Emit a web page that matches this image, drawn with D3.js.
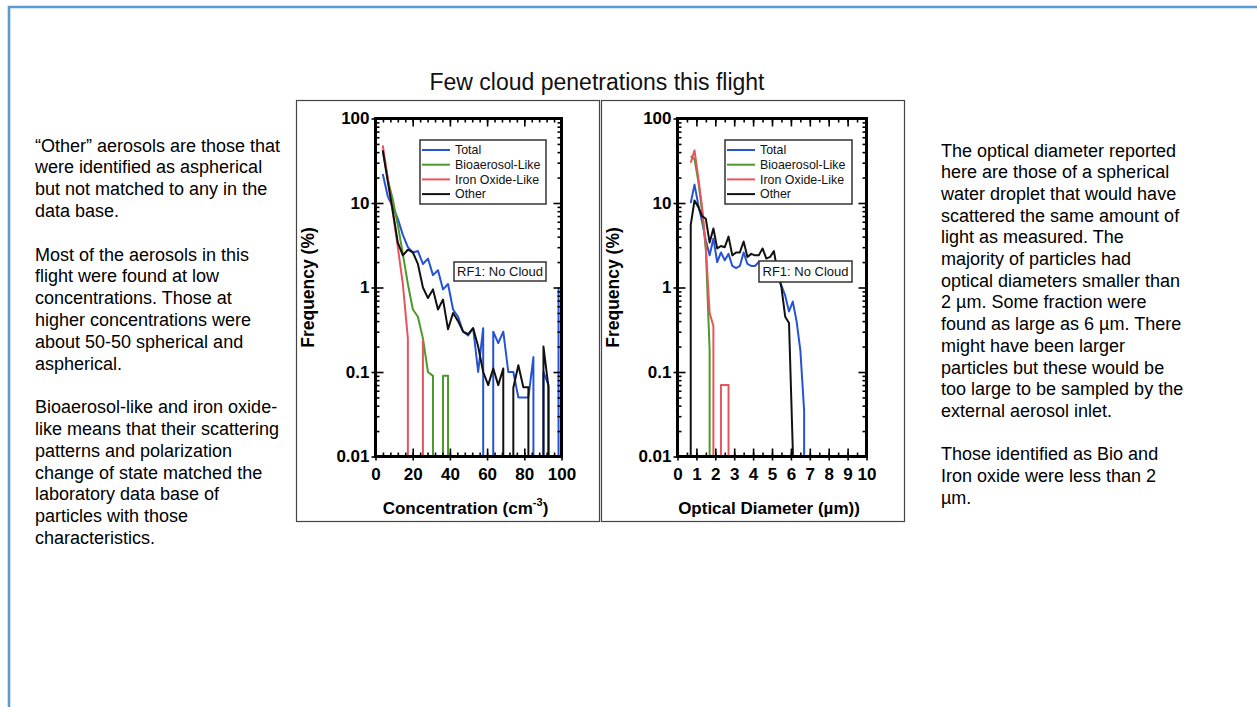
<!DOCTYPE html>
<html>
<head>
<meta charset="utf-8">
<script src="https://cdn.jsdelivr.net/npm/d3@7"></script>
<style>
  html, body { margin: 0; padding: 0; background: #fff; }
  svg { display: block; font-family: "Liberation Sans", Arial, Helvetica, sans-serif; }
</style>
</head>
<body>
<svg id="page" width="1257" height="707"></svg>
<script>
// ---- series definitions ----
const seriesNames  = ["Total", "Bioaerosol-Like", "Iron Oxide-Like", "Other"];
const seriesColors = ["#2552d6", "#4c9a2c", "#e8545b", "#111111"];

// ---- axis ticks ----
const freqTicks = [0.01, 0.1, 1, 10, 100];
const concTicks = [0, 20, 40, 60, 80, 100];
const diamTicks = [0, 1, 2, 3, 4, 5, 6, 7, 8, 9, 10];

// ---- concentration distribution (cm^-3 bins, frequency %) ----
const concBins  = [3.9, 6.6, 9.3, 12.0, 14.7, 17.4, 20.1, 22.8, 25.5, 28.2, 30.9, 33.6,
                   36.3, 39.0, 41.7, 44.4, 47.1, 49.8, 52.5, 55.2, 57.9, 60.6, 63.3, 66.0,
                   68.7, 71.4, 74.1, 76.8, 79.5, 82.2, 84.9, 87.6, 90.3, 93.0, 95.7, 98.4];
const concTotal = [22, 12, 9, 6.5, 4.2, 3.0, 2.6, 2.7, 1.9, 2.2, 1.4, 1.6,
                   0.95, 1.1, 0.55, 0.45, 0.3, 0.27, 0.33, 0.1, 0.33, 0, 0.3, 0.22,
                   0.3, 0.1, 0.1, 0.05, 0.05, 0.05, 0.15, 0, 0.1, 0.07, 0, 1.0];
const concBio   = [42, 19, 11, 5.5, 2.5, 1.1, 0.55, 0.45, 0.25, 0.1, 0.09, 0,
                   0.09, 0.09, 0, 0, 0, 0, 0, 0, 0, 0, 0, 0,
                   0, 0, 0, 0, 0, 0, 0, 0, 0, 0, 0, 0];
const concIron  = [48, 20, 7.7, 3.0, 1.1, 0.25, 0, 0, 0.24, 0, 0, 0,
                   0, 0, 0, 0, 0, 0, 0, 0, 0, 0, 0, 0,
                   0, 0, 0, 0, 0, 0, 0, 0, 0, 0, 0, 0];
const concOther = [42, 18, 8, 3.4, 2.4, 2.8, 2.6, 1.9, 1.0, 0.75, 0.95, 0.55,
                   0.72, 0.32, 0.5, 0.4, 0.3, 0.28, 0.33, 0.2, 0.1, 0.07, 0.11, 0.07,
                   0.11, 0, 0.065, 0.12, 0.066, 0.066, 0, 0, 0.2, 0.066, 0, 0];

// ---- optical diameter distribution (µm bins, frequency %) ----
const diamBins  = [0.5, 0.7, 0.9, 1.1, 1.3, 1.5, 1.7, 1.9, 2.1, 2.3, 2.5, 2.7, 2.9,
                   3.1, 3.3, 3.5, 3.7, 3.9, 4.1, 4.3, 4.5, 4.7, 4.9, 5.1, 5.3, 5.5,
                   5.7, 5.9, 6.1, 6.3, 6.5, 6.7, 6.9];
const diamTotal = [null, 10, 16.5, 9.5, 6, 3.6, 2.4, 3.8, 2.0, 2.6, 2.1, 2.5, 1.8,
                   1.7, 1.8, 2.6, 1.9, 1.8, 1.8, 2.0, 2.0, 1.8, 1.9, 1.8, 1.5, 1.05,
                   0.8, 0.52, 0.68, 0.4, 0.18, 0.035, 0];
const diamBio   = [null, 36, 33, 18, 8, 2.8, 0.18, 0, 0, 0, 0, 0, 0,
                   0, 0, 0, 0, 0, 0, 0, 0, 0, 0, 0, 0, 0,
                   0, 0, 0, 0, 0, 0, 0];
const diamIron  = [null, 30, 42, 20, 9, 3.0, 0.5, 0.35, 0, 0.07, 0.07, 0.07, 0,
                   0, 0, 0, 0, 0, 0, 0, 0, 0, 0, 0, 0, 0,
                   0, 0, 0, 0, 0, 0, 0];
const diamOther = [0, 5.5, 10.7, 9.0, 7.0, 6.5, 3.4, 5.0, 2.9, 3.1, 3.0, 4.0, 2.4,
                   2.6, 2.6, 3.5, 2.3, 2.5, 2.4, 2.4, 2.9, 2.2, 2.3, 2.7, 1.5, 1.0,
                   0.45, 0.38, 0.012, 0, 0, 0, 0];

// ---- text ----
const pageTitle = "Few cloud penetrations this flight";
const caseLabel = "RF1: No Cloud";
const yTitle = "Frequency (%)";
const leftNotes = [
  "\u201COther\u201D aerosols are those that", "were identified as aspherical",
  "but not matched to any in the", "data base.", "",
  "Most of the aerosols in this", "flight were found at low",
  "concentrations. Those at", "higher concentrations were",
  "about 50-50 spherical and", "aspherical.", "",
  "Bioaerosol-like and iron oxide-", "like means that their scattering",
  "patterns and polarization", "change of state matched the",
  "laboratory data base of", "particles with those", "characteristics."
];
const rightNotes = [
  "The optical diameter reported", "here are those of a spherical",
  "water droplet that would have", "scattered the same amount of",
  "light as measured. The", "majority of particles had",
  "optical diameters smaller than", "2 \u00B5m. Some fraction were",
  "found as large as 6 \u00B5m. There", "might have been larger",
  "particles but these would be", "too large to be sampled by the",
  "external aerosol inlet.", "",
  "Those identified as Bio and", "Iron oxide were less than 2", "\u00B5m."
];

const svg = d3.select("#page");

// page border (top and left rule)
svg.append("path")
  .attr("d", "M9,707 V7 H1257")
  .attr("fill", "none")
  .attr("stroke", "#5b9bd5")
  .attr("stroke-width", 2.6);

// side notes
function notes(lines, x, y0, step) {
  const t = svg.append("text")
    .attr("font-size", 18).attr("fill", "#000");
  lines.forEach((s, i) => {
    if (!s) return;
    t.append("tspan").attr("x", x).attr("y", y0 + i * step).text(s);
  });
}
notes(leftNotes, 35, 151.5, 21.8);
notes(rightNotes, 941, 156.5, 21.7);

// title
svg.append("text")
  .attr("x", 597).attr("y", 90)
  .attr("text-anchor", "middle")
  .attr("font-size", 23).attr("fill", "#111")
  .text(pageTitle);

// path builder: zero values drop vertically to the bottom axis, null means no data
function histPath(xs, vals, x, y) {
  const p = d3.path();
  const yb = y.range()[0];
  let prev = null;
  vals.forEach((v, i) => {
    if (v == null) { prev = null; return; }
    if (v === 0) {
      if (prev === "pos") p.lineTo(x(xs[i - 1]), yb);
      prev = "zero";
      return;
    }
    const px = x(xs[i]), py = y(v);
    if (prev === "pos") p.lineTo(px, py);
    else if (prev === "zero") { p.moveTo(px, yb); p.lineTo(px, py); }
    else p.moveTo(px, py);
    prev = "pos";
  });
  return p.toString();
}

const panels = [
  {
    id: "conc",
    frame: { x: 296.5, y: 100.5, w: 303, h: 421 },
    plot: { l: 375.5, r: 561.5, t: 118.5, b: 456.5 },
    xDomain: [0, 100], xMajor: concTicks, xMinor: d3.range(0, 100.01, 4),
    xs: concBins, series: [concTotal, concBio, concIron, concOther],
    legend: { x: 420, y: 140, w: 126, h: 64 },
    rf: { x: 454, y: 262, w: 92, h: 19 },
    yTitleX: 314,
    xTitle: (t) => {
      t.append("tspan").text("Concentration (cm");
      t.append("tspan").attr("font-size", 11).attr("dy", -8).text("-3");
      t.append("tspan").attr("dy", 8).text(")");
    }
  },
  {
    id: "diam",
    frame: { x: 601.5, y: 100.5, w: 303, h: 421 },
    plot: { l: 677.5, r: 866.5, t: 118.5, b: 456.5 },
    xDomain: [0, 10], xMajor: diamTicks, xMinor: d3.range(0, 10.01, 0.5),
    xs: diamBins, series: [diamTotal, diamBio, diamIron, diamOther],
    legend: { x: 725, y: 140, w: 127, h: 64 },
    rf: { x: 759, y: 261, w: 93, h: 21 },
    yTitleX: 619,
    xTitle: (t) => { t.append("tspan").text("Optical Diameter (\u00B5m))"); }
  }
];

const yMinor = [];
[0.01, 0.1, 1, 10].forEach(d => { for (let k = 2; k <= 9; k++) yMinor.push(d * k); });

panels.forEach(P => {
  const g = svg.append("g").attr("id", P.id);
  const pl = P.plot;

  // image frame
  g.append("rect")
    .attr("x", P.frame.x).attr("y", P.frame.y)
    .attr("width", P.frame.w).attr("height", P.frame.h)
    .attr("fill", "#fff").attr("stroke", "#444").attr("stroke-width", 1.2);

  const x = d3.scaleLinear().domain(P.xDomain).range([pl.l, pl.r]);
  const y = d3.scaleLog().domain([0.01, 100]).range([pl.b, pl.t]);

  // data lines
  const clipId = "clip-" + P.id;
  g.append("clipPath").attr("id", clipId)
    .append("rect").attr("x", pl.l).attr("y", pl.t)
    .attr("width", pl.r - pl.l).attr("height", pl.b - pl.t);
  const lines = g.append("g").attr("clip-path", `url(#${clipId})`);
  P.series.forEach((vals, si) => {
    lines.append("path")
      .attr("d", histPath(P.xs, vals, x, y))
      .attr("fill", "none")
      .attr("stroke", seriesColors[si])
      .attr("stroke-width", 2)
      .attr("stroke-linejoin", "round");
  });

  // axes: major ticks inside with labels, minor ticks inside, mirrored on top/right
  const tickStyle = sel => {
    sel.select(".domain").remove();
    sel.selectAll("line").attr("stroke", "#000").attr("stroke-width", 1.6);
    sel.selectAll("text")
      .attr("font-family", "\"Liberation Sans\", Arial, sans-serif")
      .attr("font-weight", "bold").attr("font-size", 17).attr("fill", "#000");
  };
  const fmtY = d3.format("~g");

  g.append("g").attr("transform", `translate(${pl.l},0)`)
    .call(d3.axisLeft(y).tickValues(freqTicks).tickFormat(fmtY)
      .tickSizeInner(-8).tickSizeOuter(0).tickPadding(6))
    .call(tickStyle);
  g.append("g").attr("transform", `translate(${pl.l},0)`)
    .call(d3.axisLeft(y).tickValues(freqTicks).tickFormat("").tickSizeInner(4).tickSizeOuter(0))
    .call(tickStyle);
  g.append("g").attr("transform", `translate(${pl.l},0)`)
    .call(d3.axisLeft(y).tickValues(yMinor).tickFormat("").tickSizeInner(-4).tickSizeOuter(0))
    .call(tickStyle);
  g.append("g").attr("transform", `translate(${pl.r},0)`)
    .call(d3.axisRight(y).tickValues(freqTicks).tickFormat("").tickSizeInner(-8).tickSizeOuter(0))
    .call(tickStyle);
  g.append("g").attr("transform", `translate(${pl.r},0)`)
    .call(d3.axisRight(y).tickValues(yMinor).tickFormat("").tickSizeInner(-4).tickSizeOuter(0))
    .call(tickStyle);

  g.append("g").attr("transform", `translate(0,${pl.b})`)
    .call(d3.axisBottom(x).tickValues(P.xMajor).tickFormat(d3.format("d"))
      .tickSizeInner(-8).tickSizeOuter(0).tickPadding(11))
    .call(tickStyle);
  g.append("g").attr("transform", `translate(0,${pl.b})`)
    .call(d3.axisBottom(x).tickValues(P.xMajor).tickFormat("").tickSizeInner(4).tickSizeOuter(0))
    .call(tickStyle);
  g.append("g").attr("transform", `translate(0,${pl.b})`)
    .call(d3.axisBottom(x).tickValues(P.xMinor).tickFormat("").tickSizeInner(-4).tickSizeOuter(0))
    .call(tickStyle);
  g.append("g").attr("transform", `translate(0,${pl.t})`)
    .call(d3.axisTop(x).tickValues(P.xMajor).tickFormat("").tickSizeInner(-8).tickSizeOuter(0))
    .call(tickStyle);
  g.append("g").attr("transform", `translate(0,${pl.t})`)
    .call(d3.axisTop(x).tickValues(P.xMinor).tickFormat("").tickSizeInner(-4).tickSizeOuter(0))
    .call(tickStyle);

  // plot frame
  g.append("rect")
    .attr("x", pl.l).attr("y", pl.t)
    .attr("width", pl.r - pl.l).attr("height", pl.b - pl.t)
    .attr("fill", "none").attr("stroke", "#000").attr("stroke-width", 3);

  // axis titles
  const xt = g.append("text")
    .attr("x", (pl.l + pl.r) / 2 - 3).attr("y", 514)
    .attr("text-anchor", "middle")
    .attr("font-weight", "bold").attr("font-size", 17).attr("fill", "#000");
  P.xTitle(xt);

  g.append("text")
    .attr("transform", `translate(${P.yTitleX},${(pl.t + pl.b) / 2}) rotate(-90)`)
    .attr("text-anchor", "middle")
    .attr("font-weight", "bold").attr("font-size", 17.5).attr("fill", "#000")
    .text(yTitle);

  // legend
  const L = P.legend;
  const lg = g.append("g");
  lg.append("rect")
    .attr("x", L.x).attr("y", L.y).attr("width", L.w).attr("height", L.h)
    .attr("fill", "#fff").attr("stroke", "#333").attr("stroke-width", 1.5);
  seriesNames.forEach((name, i) => {
    const cy = L.y + 10 + i * 14.7;
    lg.append("line")
      .attr("x1", L.x + 2).attr("x2", L.x + 30)
      .attr("y1", cy).attr("y2", cy)
      .attr("stroke", seriesColors[i]).attr("stroke-width", 2);
    lg.append("text")
      .attr("x", L.x + 35).attr("y", cy + 4.3)
      .attr("font-size", 12.4).attr("fill", "#111")
      .text(name);
  });

  // case label
  const R = P.rf;
  g.append("rect")
    .attr("x", R.x).attr("y", R.y).attr("width", R.w).attr("height", R.h)
    .attr("fill", "#fff").attr("stroke", "#333").attr("stroke-width", 1.5);
  g.append("text")
    .attr("x", R.x + R.w / 2).attr("y", R.y + R.h / 2 + 4.5)
    .attr("text-anchor", "middle")
    .attr("font-size", 13).attr("fill", "#111")
    .text(caseLabel);
});
</script>
</body>
</html>
